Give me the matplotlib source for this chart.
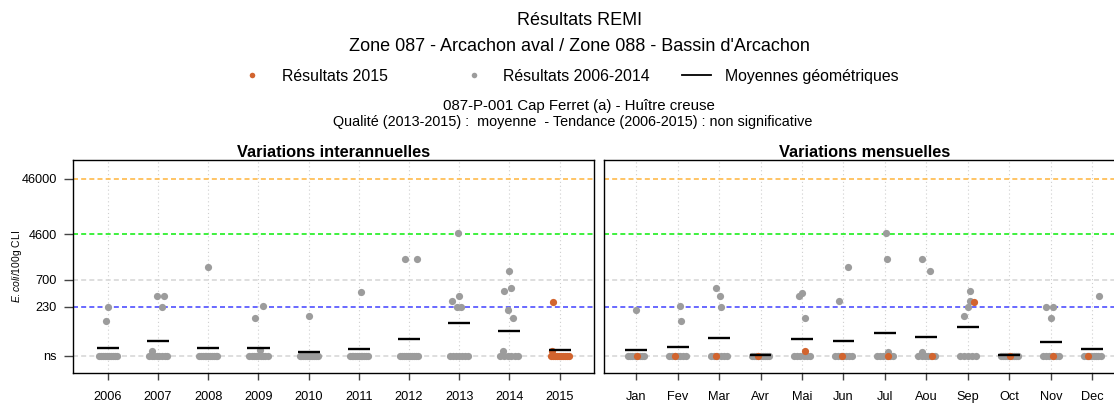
"""REMI results, Cap Ferret oysters: E. coli per year and per month, log axis."""
import matplotlib

matplotlib.use("Agg")
import matplotlib.pyplot as plt
import numpy as np
from matplotlib.lines import Line2D

plt.rcParams.update(
    {
        "font.family": "Liberation Sans",
        "mathtext.fontset": "custom",
        "mathtext.it": "Liberation Sans:italic",
        "mathtext.rm": "Liberation Sans",
        "axes.linewidth": 1.0,
    }
)

NS = 30  # "ns" (below detection) is drawn on this level

# thresholds drawn as dashed lines
LIMITS = [46000, 4600, 700, 230, NS]
LIMIT_COLORS = ["#FFBA4A", "#1EEE1E", "#D8D8D8", "#4F4FFF", "#D8D8D8"]
Y_TICKS = [46000, 4600, 700, 230, NS]
Y_TICK_LABELS = ["46000", "4600", "700", "230", "ns"]

# ---- interannual panel -------------------------------------------------
YEARS = list(range(2006, 2016))
YEAR_MEANS = [42, 55, 42, 42, 36, 40, 61, 119, 85, 38]
# 2006-2014 results above detection (x = sampling year, jittered)
YEAR_PTS_X = [2006.01, 2005.96,
              2006.97, 2007.12, 2007.07, 2006.88,
              2007.99,
              2008.93, 2009.09, 2009.03,
              2010.01,
              2011.04,
              2011.92, 2012.16,
              2012.97, 2012.86, 2012.99, 2012.96, 2013.03,
              2013.99, 2013.90, 2014.04, 2013.97, 2014.07, 2013.87]
YEAR_PTS_Y = [230, 129,
              359, 359, 225, 37,
              1211,
              142, 237, 38,
              157,
              419,
              1645, 1645,
              4900, 295, 359, 230, 225,
              1000, 442, 507, 203, 142, 37]
YEAR_NS_COUNT = [10, 8, 11, 9, 11, 11, 10, 7, 6]
Y2015_PTS_X = [2014.87, 2014.84]
Y2015_PTS_Y = [277, 37]
Y2015_NS_COUNT = 10

# ---- monthly panel -----------------------------------------------------
MONTHS = ["Jan", "Fev", "Mar", "Avr", "Mai", "Jun",
          "Jul", "Aou", "Sep", "Oct", "Nov", "Dec"]
MONTH_MEANS = [39, 44, 64, 31, 61, 56, 78, 66, 100, 31, 54, 40]
MONTH_PTS_X = [0.99,
               2.06, 2.09,
               2.93, 3.03, 3.06,
               4.93, 5.00, 5.08,
               5.88, 6.12,
               7.02, 7.04, 7.08,
               7.90, 8.08, 7.89,
               9.06, 8.91, 9.00, 9.05,
               10.87, 11.04, 11.00,
               12.16]
MONTH_PTS_Y = [201,
               237, 129,
               507, 359, 225,
               359, 414, 147,
               292, 1211,
               4900, 1645, 36,
               1645, 1000, 36,
               442, 157, 225, 295,
               230, 230, 142,
               359]
MONTH_NS_COUNT = [8, 7, 6, 9, 6, 7, 6, 6, 5, 9, 6, 8]
M2015_X = [1.02, 1.94, 2.93, 3.95, 5.08, 5.97, 7.08, 8.14, 9.14, 10.01, 11.04, 11.89]
M2015_Y = [NS, NS, NS, NS, 37, NS, NS, NS, 277, NS, NS, NS]

GREY = "#9C9C9C"
ORANGE = "#D2642E"
MS = 5.2


def ns_cluster(center, n, spread=0.18):
    return center + np.linspace(-spread, spread, n)


def style_panel(ax, ticks, labels, xlim):
    ax.set_yscale("log")
    ax.set_ylim(15, 1e5)
    ax.set_xlim(*xlim)
    for t in ticks:
        ax.axvline(t, color="#CFCFCF", lw=0.8, ls=(0, (1, 2.5)), zorder=0)
    for v, c in zip(LIMITS, LIMIT_COLORS):
        ax.axhline(v, color=c, lw=1.2, dashes=(3.0, 1.9), zorder=1)
    ax.set_xticks(ticks)
    ax.set_xticklabels(labels)
    ax.minorticks_off()
    ax.tick_params(axis="x", length=5, width=1, color="#444444", pad=8, labelsize=9.2)
    for s in ax.spines.values():
        s.set_color("black")


fig = plt.figure(figsize=(11.14, 4.03), dpi=100)
ax1 = fig.add_axes([0.0655, 0.0752, 0.4677, 0.5278])
ax2 = fig.add_axes([0.5422, 0.0752, 0.4674, 0.5278])

# interannual
style_panel(ax1, YEARS, [str(y) for y in YEARS], (2005.303, 2015.686))
for y, n in zip(YEARS[:-1], YEAR_NS_COUNT):
    ax1.plot(ns_cluster(y, n), [NS] * n, "o", ms=MS, color=GREY, mec="none", zorder=3)
ax1.plot(YEAR_PTS_X, YEAR_PTS_Y, "o", ms=MS, color=GREY, mec="none", zorder=3)
ax1.plot(ns_cluster(2015, Y2015_NS_COUNT), [NS] * Y2015_NS_COUNT, "o", ms=MS,
         color=ORANGE, mec="none", zorder=4)
ax1.plot(Y2015_PTS_X, Y2015_PTS_Y, "o", ms=MS, color=ORANGE, mec="none", zorder=4)
ax1.hlines(YEAR_MEANS, np.array(YEARS) - 0.22, np.array(YEARS) + 0.22,
           color="black", lw=1.7, zorder=5)
ax1.set_yticks(Y_TICKS)
ax1.set_yticklabels(Y_TICK_LABELS)
ax1.tick_params(axis="y", length=6.5, width=1, color="#444444", pad=5, labelsize=9.2)
ax1.set_title("Variations interannuelles", fontsize=11.8, fontweight="bold", pad=2)

# monthly
mpos = np.arange(1, 13)
style_panel(ax2, mpos, MONTHS, (0.229, 12.776))
for m, n in zip(mpos, MONTH_NS_COUNT):
    ax2.plot(ns_cluster(m, n, 0.2), [NS] * n, "o", ms=MS, color=GREY, mec="none", zorder=3)
ax2.plot(MONTH_PTS_X, MONTH_PTS_Y, "o", ms=MS, color=GREY, mec="none", zorder=3)
ax2.plot(M2015_X, M2015_Y, "o", ms=MS, color=ORANGE, mec="none", zorder=4)
ax2.hlines(MONTH_MEANS, mpos - 0.265, mpos + 0.265, color="black", lw=1.7, zorder=5)
ax2.set_yticks([])
ax2.set_title("Variations mensuelles", fontsize=11.8, fontweight="bold", pad=2)

fig.text(0.0153, 0.34, r"$\mathit{E.coli}$/100g CLI", rotation=90,
         ha="center", va="center", fontsize=7.5)

# header, centred on the full device width
cx = 0.520
fig.text(cx, 0.948, "Résultats REMI", ha="center", va="center", fontsize=13)
fig.text(cx, 0.884, "Zone 087 - Arcachon aval / Zone 088 - Bassin d'Arcachon",
         ha="center", va="center", fontsize=13)
fig.text(cx, 0.736, "087-P-001 Cap Ferret (a) - Huître creuse",
         ha="center", va="center", fontsize=10.8)
fig.text(cx - 0.006, 0.698,
         "Qualité (2013-2015) :  moyenne  - Tendance (2006-2015) : non significative",
         ha="center", va="center", fontsize=10.4)

# legend row
ly = 0.811
fig.add_artist(Line2D([0.2262], [ly + 0.004], marker="o", ms=4, color=ORANGE, mec="none",
                      transform=fig.transFigure))
fig.add_artist(Line2D([0.4255], [ly + 0.004], marker="o", ms=4, color=GREY, mec="none",
                      transform=fig.transFigure))
fig.add_artist(Line2D([0.6122, 0.6382], [ly + 0.002] * 2, color="black", lw=1.3,
                      transform=fig.transFigure))
fig.text(0.2531, ly, "Résultats 2015", va="center", fontsize=11.4)
fig.text(0.4515, ly, "Résultats 2006-2014", va="center", fontsize=11.4)
fig.text(0.6508, ly, "Moyennes géométriques", va="center", fontsize=11.4)

fig.savefig("out.png", dpi=100)
